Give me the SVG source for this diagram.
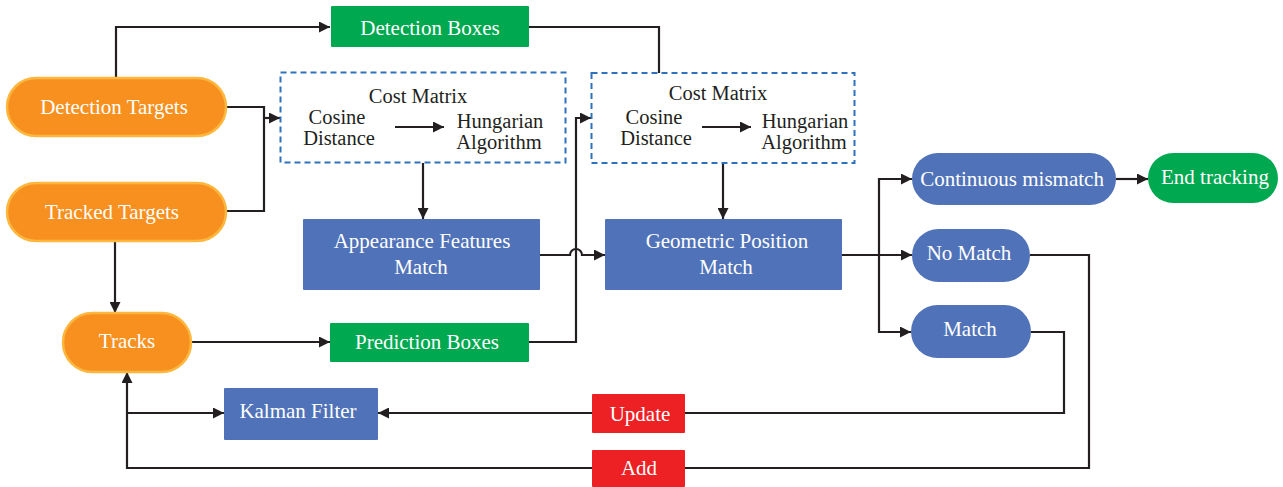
<svg xmlns="http://www.w3.org/2000/svg" width="1283" height="487" viewBox="0 0 1283 487">
<style>
.t{font-family:"Liberation Serif","Times New Roman",serif;font-size:21px;text-anchor:middle;fill:#fff}
.k{font-family:"Liberation Serif","Times New Roman",serif;font-size:20.5px;text-anchor:middle;fill:#231f20}
.or{fill:#f7901e;stroke:#fdb73e;stroke-width:2.5}
.bl{fill:#5072b8}
.gr{fill:#00a850}
.rd{fill:#ed2024}
.dash{fill:none;stroke:#2e72bd;stroke-width:2;stroke-dasharray:6 4}
.c{fill:none;stroke:#231f20;stroke-width:2.2}
</style>
<defs>
<marker id="ar" viewBox="0 0 10 10" refX="10" refY="5" markerWidth="12" markerHeight="11" markerUnits="userSpaceOnUse" orient="auto">
<path d="M0,0 L10,5 L0,10 z" fill="#231f20"/>
</marker>
</defs>
<rect width="1283" height="487" fill="#fff"/>
<g id="connectors">
<path class="c" d="M116,77 V27 H330" marker-end="url(#ar)"/>
<path class="c" d="M529,27 H659 V73"/>
<path class="c" d="M226,107 H264 V211 H226"/>
<path class="c" d="M264,118 H280" marker-end="url(#ar)"/>
<path class="c" d="M423,163 V219" marker-end="url(#ar)"/>
<path class="c" d="M723,164 V219" marker-end="url(#ar)"/>
<path class="c" d="M115,241 V313" marker-end="url(#ar)"/>
<path class="c" d="M191,342 H330" marker-end="url(#ar)"/>
<path class="c" d="M529,342 H576 V118 H591" marker-end="url(#ar)"/>
<path class="c" d="M540,255 H570 a6,6 0 0 1 12,0 H605" marker-end="url(#ar)"/>
<path class="c" d="M842,255 H912" marker-end="url(#ar)"/>
<path class="c" d="M879,255 V179 H912" marker-end="url(#ar)"/>
<path class="c" d="M879,255 V332 H911" marker-end="url(#ar)"/>
<path class="c" d="M1116,179 H1148" marker-end="url(#ar)"/>
<path class="c" d="M1030,255 H1089 V468 H127 V372" marker-end="url(#ar)"/>
<path class="c" d="M127,413 H224" marker-end="url(#ar)"/>
<path class="c" d="M1031,332 H1064 V413 H378" marker-end="url(#ar)"/>
<path class="c" d="M395,127 H444" marker-end="url(#ar)"/>
<path class="c" d="M702,127 H751" marker-end="url(#ar)"/>
</g>
<g id="detection-boxes"><rect class="gr" x="331" y="6" width="198" height="41" rx="1"/><text class="t" x="430" y="35">Detection Boxes</text></g>
<g id="detection-targets"><rect class="or" x="7" y="78" width="219" height="58" rx="29"/><text class="t" x="114" y="114">Detection Targets</text></g>
<g id="tracked-targets"><rect class="or" x="7" y="183" width="219" height="58" rx="29"/><text class="t" x="112" y="219">Tracked Targets</text></g>
<g id="cost-matrix-1">
<rect class="dash" x="280.5" y="72.5" width="285" height="90"/>
<text class="k" x="418" y="103">Cost Matrix</text>
<text class="k" x="337" y="124">Cosine</text>
<text class="k" x="339" y="145">Distance</text>
<text class="k" x="500" y="128">Hungarian</text>
<text class="k" x="499" y="149">Algorithm</text>
</g>
<g id="cost-matrix-2">
<rect class="dash" x="591.5" y="73" width="263" height="90"/>
<text class="k" x="718" y="100">Cost Matrix</text>
<text class="k" x="654" y="124">Cosine</text>
<text class="k" x="656" y="145">Distance</text>
<text class="k" x="805" y="128">Hungarian</text>
<text class="k" x="804" y="149">Algorithm</text>
</g>
<g id="appearance-match"><rect class="bl" x="303" y="219" width="237" height="71" rx="1"/><text class="t" x="422" y="248">Appearance Features</text><text class="t" x="421" y="274">Match</text></g>
<g id="geometric-match"><rect class="bl" x="605" y="219" width="237" height="71" rx="1"/><text class="t" x="727" y="248">Geometric Position</text><text class="t" x="726" y="274">Match</text></g>
<g id="tracks"><rect class="or" x="63" y="313" width="128" height="59" rx="29.5"/><text class="t" x="127" y="348">Tracks</text></g>
<g id="prediction-boxes"><rect class="gr" x="330" y="323" width="199" height="39" rx="1"/><text class="t" x="427" y="349">Prediction Boxes</text></g>
<g id="continuous-mismatch"><rect class="bl" x="912" y="153" width="204" height="52" rx="26"/><text class="t" x="1012" y="186">Continuous mismatch</text></g>
<g id="end-tracking"><rect class="gr" x="1148" y="153" width="130" height="50" rx="25"/><text class="t" x="1215" y="184">End tracking</text></g>
<g id="no-match"><rect class="bl" x="912" y="229" width="118" height="53" rx="26.5"/><text class="t" x="969" y="260">No Match</text></g>
<g id="match"><rect class="bl" x="911" y="305" width="120" height="53" rx="26.5"/><text class="t" x="970" y="336">Match</text></g>
<g id="kalman-filter"><rect class="bl" x="224" y="388" width="154" height="52" rx="1"/><text class="t" x="298" y="418">Kalman Filter</text></g>
<g id="update"><rect class="rd" x="592" y="394" width="93" height="39" rx="1"/><text class="t" x="640" y="421">Update</text></g>
<g id="add"><rect class="rd" x="592" y="450" width="93" height="37" rx="1"/><text class="t" x="639" y="475">Add</text></g>
</svg>
